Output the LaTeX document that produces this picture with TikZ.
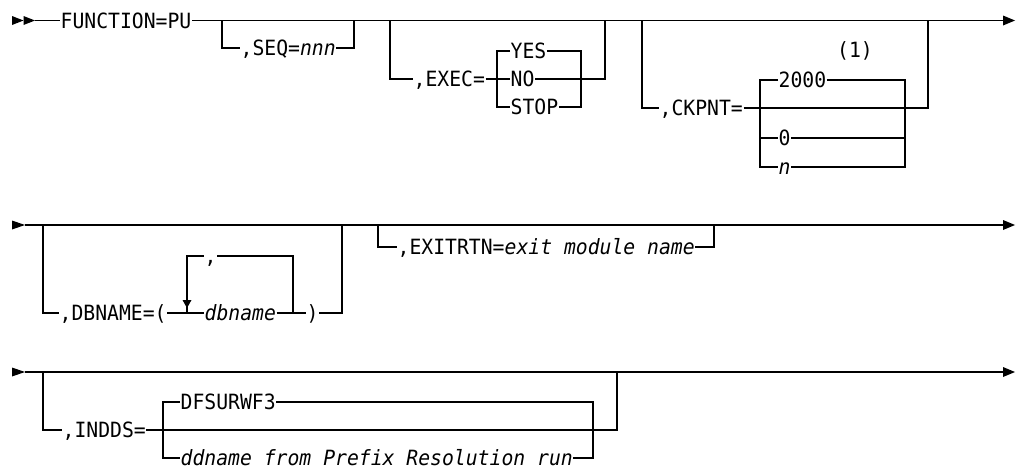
\documentclass[tikz,border=0pt]{standalone}
\usepackage{fontspec}
\newfontfamily\mono[FakeStretch=0.94]{DejaVu Sans Mono}
\begin{document}
\begin{tikzpicture}[x=1pt,y=-1pt,line width=1.3pt,
  txt/.style={font=\mono\fontsize{21}{22}\selectfont, inner sep=0pt, text height=20pt, text depth=4.7pt, anchor=west},
  rail/.style={draw=black},
  tip/.style={fill=black, draw=none}]
\useasboundingbox (0,0) rectangle (1016,472);

% ---------------- Row 1 ----------------
\fill[tip] (12,16) -- (23.5,20.5) -- (12,25) -- cycle;
\fill[tip] (23.5,16) -- (35,20.5) -- (23.5,25) -- cycle;
\coordinate (r1s) at (35,20.5);
\coordinate (r1e) at (1003,20.5);
\fill[tip] (1003,15.5) -- (1015,20.5) -- (1003,25.5) -- cycle;

\node[txt] (fn) at (60,20.5) {FUNCTION=PU};
\draw[rail] (r1s) -- (fn.west);
\draw[rail] (fn.east) -- (r1e);

% SEQ
\node[txt] (seq) at (240,48) {,SEQ=\textit{nnn}};
\coordinate (s1) at (222,20.5);
\coordinate (s4) at (354,20.5);
\draw[rail] (s1) |- (seq.west);
\draw[rail] (seq.east) -| (s4);

% EXEC
\node[txt] (exec) at (413,79) {,EXEC=};
\node[txt] (yes) at (510,51) {YES};
\node[txt] (no) at (510,79) {NO};
\node[txt] (stop) at (510,107) {STOP};
\coordinate (e1) at (390,20.5);
\coordinate (e4) at (605,20.5);
\coordinate (eL1) at (497,51);
\coordinate (eL3) at (497,107);
\coordinate (eR1) at (581,51);
\coordinate (eR3) at (581,107);
\draw[rail] (e1) |- (exec.west);
\draw[rail] (exec.east) -- (no.west);
\draw[rail] (no.east) -| (e4);
\draw[rail] (yes.west) -- (eL1) -- (eL3) -- (stop.west);
\draw[rail] (yes.east) -- (eR1) -- (eR3) -- (stop.east);

% CKPNT
\node[txt] (ck) at (659,108) {,CKPNT=};
\node[txt] (c2000) at (778,80) {2000};
\node[txt] (c0) at (778,138) {0};
\node[txt] (cn) at (778,167) {\textit{n}};
\node[txt, anchor=center] (note) at (855,50) {(1)};
\coordinate (c1) at (642,20.5);
\coordinate (c4) at (928,20.5);
\coordinate (cL1) at (760,80);
\coordinate (cL2) at (760,138);
\coordinate (cL3) at (760,167);
\coordinate (cR1) at (905,80);
\coordinate (cR2) at (905,138);
\coordinate (cR3) at (905,167);
\draw[rail] (c1) |- (ck.west);
\draw[rail] (ck.east) -| (c4);
\draw[rail] (c2000.west) -- (cL1) -- (cL3) -- (cn.west);
\draw[rail] (cL2) -- (c0.west);
\draw[rail] (c2000.east) -- (cR1) -- (cR3) -- (cn.east);
\draw[rail] (c0.east) -- (cR2);

% ---------------- Row 2 ----------------
\fill[tip] (12,220.5) -- (25,225) -- (12,229.5) -- cycle;
\coordinate (r2s) at (25,225);
\coordinate (r2e) at (1003,225);
\fill[tip] (1003,220) -- (1015,225) -- (1003,230) -- cycle;
\draw[rail] (r2s) -- (r2e);

\node[txt] (dbn) at (59,313) {,DBNAME=(};
\node[txt] (dbname) at (204,313) {\textit{dbname}};
\node[txt] (comma) at (204,256) {,};
\node[txt] (rp) at (306,313) {)};
\coordinate (d1) at (43,225);
\coordinate (lpL) at (187,313);
\coordinate (lpLt) at (187,256);
\coordinate (lpR) at (293,313);
\coordinate (lpRt) at (293,256);
\coordinate (d4) at (342,225);
\draw[rail] (d1) |- (dbn.west);
\draw[rail] (dbn.east) -- (dbname.west);
\draw[rail] (lpL) -- (lpLt) -- (comma.west);
\draw[rail] (comma.east) -- (lpRt) -- (lpR);
\draw[rail] (dbname.east) -- (rp.west);
\draw[rail] (rp.east) -| (d4);
\fill[tip] (182.5,300) -- (191.5,300) -- (187,308) -- cycle;

\node[txt] (exit) at (397,247) {,EXITRTN=\textit{exit module name}};
\coordinate (x1) at (378,225);
\coordinate (x4) at (714,225);
\draw[rail] (x1) |- (exit.west);
\draw[rail] (exit.east) -| (x4);

% ---------------- Row 3 ----------------
\fill[tip] (12,367.5) -- (25,372) -- (12,376.5) -- cycle;
\coordinate (r3s) at (25,372);
\coordinate (r3e) at (1003,372);
\fill[tip] (1003,367) -- (1015,372) -- (1003,377) -- cycle;
\draw[rail] (r3s) -- (r3e);

\node[txt] (indds) at (62,430) {,INDDS=};
\node[txt] (dfs) at (180,402) {DFSURWF3};
\node[txt] (ddn) at (180,458) {\textit{ddname from Prefix Resolution run}};
\coordinate (i1) at (43,372);
\coordinate (i4) at (617,372);
\coordinate (iL1) at (163,402);
\coordinate (iL3) at (163,458);
\coordinate (iR1) at (593,402);
\coordinate (iR3) at (593,458);
\draw[rail] (i1) |- (indds.west);
\draw[rail] (indds.east) -| (i4);
\draw[rail] (dfs.west) -- (iL1) -- (iL3) -- (ddn.west);
\draw[rail] (dfs.east) -- (iR1) -- (iR3) -- (ddn.east);
\end{tikzpicture}
\end{document}
